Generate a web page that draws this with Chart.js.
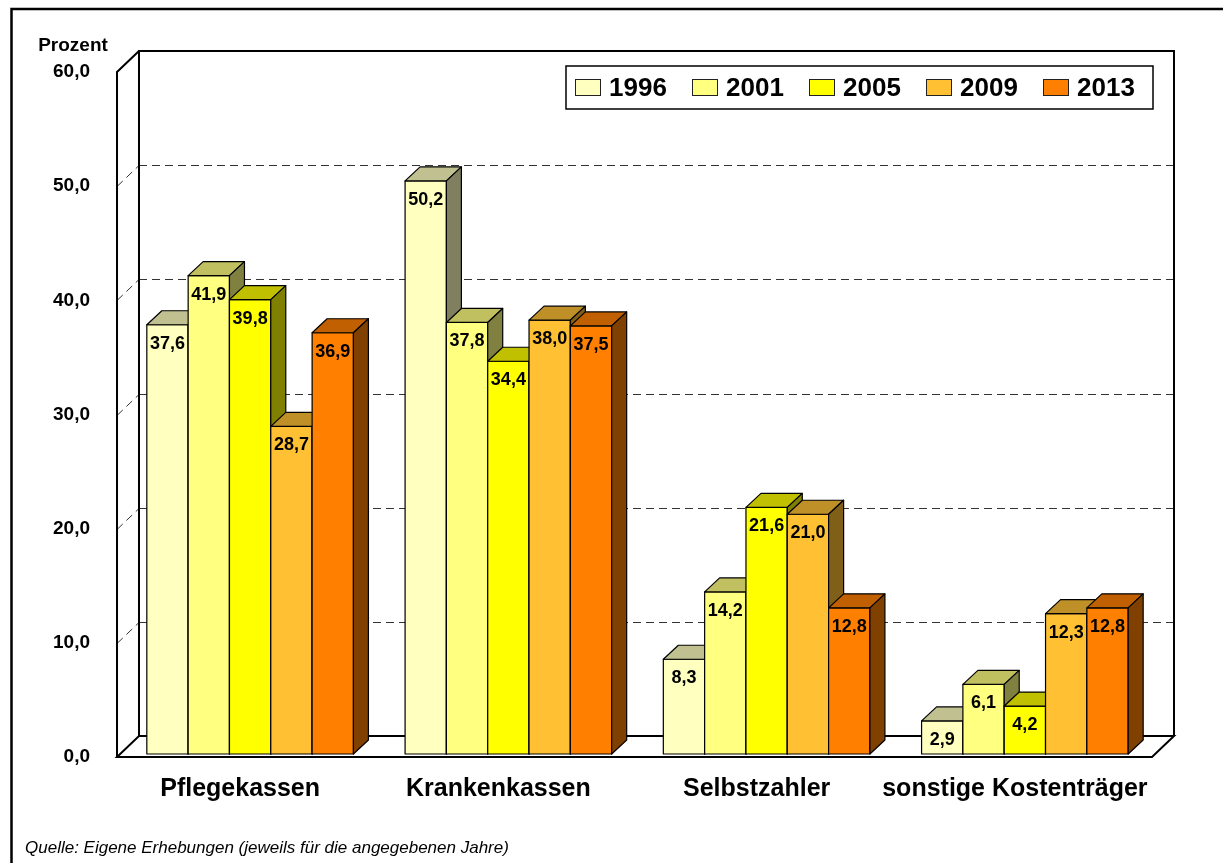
<!DOCTYPE html>
<html><head><meta charset="utf-8">
<script src="https://cdn.jsdelivr.net/npm/chart.js@4/dist/chart.umd.min.js"></script>
<style>html,body{margin:0;padding:0;background:#fff}#wrap{width:1223px;height:863px;position:relative}canvas{display:block}</style>
</head><body><div id="wrap"><canvas id="c" width="1223" height="863"></canvas></div>
<script>
const categories = ['Pflegekassen', 'Krankenkassen', 'Selbstzahler', 'sonstige Kostenträger'];
const years = ['1996', '2001', '2005', '2009', '2013'];
const values1996 = [37.6, 50.2, 8.3, 2.9];
const values2001 = [41.9, 37.8, 14.2, 6.1];
const values2005 = [39.8, 34.4, 21.6, 4.2];
const values2009 = [28.7, 38.0, 21.0, 12.3];
const values2013 = [36.9, 37.5, 12.8, 12.8];
const yMin = 0, yMax = 60, yStep = 10;
const yTitle = 'Prozent';
const sourceNote = 'Quelle: Eigene Erhebungen (jeweils für die angegebenen Jahre)';

const frontColors = ['#FFFFC0', '#FFFF80', '#FFFF00', '#FFC133', '#FF8000'];
const topColors = ['#C0C090', '#C0C060', '#C0C000', '#C09028', '#C06000'];
const sideColors = ['#808060', '#808040', '#808000', '#806018', '#804000'];

const FONT = '"Liberation Sans", Arial, Helvetica, sans-serif';
const fmt = v => Number(v).toFixed(1).replace('.', ',');

const seriesValues = [values1996, values2001, values2005, values2009, values2013];
const datasets = years.map((y, i) => ({
  label: y,
  data: seriesValues[i],
  backgroundColor: frontColors[i],
  borderColor: '#000',
  borderWidth: 1,
  borderSkipped: false,
  categoryPercentage: 0.8,
  barPercentage: 1.0
}));

// 3D geometry (pixels)
const BAR_DX = 15, BAR_DY = -14;   // bar depth
const FRONT_DX = -4, FRONT_DY = 3; // axis front plane relative to bar plane
const WALL_DX = 22, WALL_DY = -21; // wall depth

const threeD = {
  id: 'threeD',
  beforeDraw(chart) {
    const ctx = chart.ctx;
    ctx.save();
    ctx.fillStyle = '#fff';
    ctx.fillRect(0, 0, chart.width, chart.height);
    // outer frame
    ctx.strokeStyle = '#000';
    ctx.lineWidth = 2.5;
    ctx.strokeRect(11.5, 9, 1240, 900);
    // y title
    ctx.fillStyle = '#000';
    ctx.font = 'bold 19px ' + FONT;
    ctx.textAlign = 'center';
    ctx.textBaseline = 'middle';
    ctx.fillText(yTitle, 73, 46);
    // source
    ctx.font = 'italic 17px ' + FONT;
    ctx.textAlign = 'left';
    ctx.fillText(sourceNote, 25, 848);
    ctx.restore();
  },
  beforeDatasetsDraw(chart) {
    const ctx = chart.ctx, ys = chart.scales.y, ca = chart.chartArea;
    const FL = ca.left + FRONT_DX, FR = ca.right - 2;
    const FB = ys.getPixelForValue(yMin) + FRONT_DY, FT = ys.getPixelForValue(yMax) + FRONT_DY;
    ctx.save();
    // dashed gridlines
    ctx.strokeStyle = '#333';
    ctx.lineWidth = 1;
    ctx.setLineDash([8, 5]);
    for (let v = yMin + yStep; v < yMax; v += yStep) {
      const yf = Math.round(ys.getPixelForValue(v) + FRONT_DY) + 0.5;
      ctx.beginPath();
      ctx.moveTo(FL + WALL_DX, yf + WALL_DY);
      ctx.lineTo(FR + WALL_DX, yf + WALL_DY);
      ctx.stroke();
      ctx.beginPath();
      ctx.moveTo(FL, yf);
      ctx.lineTo(FL + WALL_DX, yf + WALL_DY);
      ctx.stroke();
    }
    ctx.setLineDash([]);
    ctx.strokeStyle = '#000';
    ctx.lineWidth = 2;
    // back wall
    ctx.beginPath();
    ctx.moveTo(FL + WALL_DX, FB + WALL_DY);
    ctx.lineTo(FL + WALL_DX, FT + WALL_DY);
    ctx.lineTo(FR + WALL_DX, FT + WALL_DY);
    ctx.lineTo(FR + WALL_DX, FB + WALL_DY);
    ctx.stroke();
    // left side wall
    ctx.beginPath();
    ctx.moveTo(FL, FB);
    ctx.lineTo(FL, FT);
    ctx.lineTo(FL + WALL_DX, FT + WALL_DY);
    ctx.stroke();
    // floor
    ctx.beginPath();
    ctx.moveTo(FL, FB);
    ctx.lineTo(FR, FB);
    ctx.lineTo(FR + WALL_DX, FB + WALL_DY);
    ctx.lineTo(FL + WALL_DX, FB + WALL_DY);
    ctx.closePath();
    ctx.stroke();
    ctx.restore();
  },
  afterDatasetsDraw(chart) {
    const ctx = chart.ctx;
    const metas = chart.data.datasets.map((d, i) => chart.getDatasetMeta(i));
    ctx.save();
    ctx.strokeStyle = '#000';
    ctx.lineWidth = 1.2;
    ctx.lineJoin = 'round';
    for (let j = 0; j < categories.length; j++) {
      for (let i = 0; i < metas.length; i++) {
        const el = metas[i].data[j];
        if (!el) continue;
        const w = el.width, l = el.x - w / 2, r = el.x + w / 2, t = el.y, b = el.base;
        // front
        ctx.fillStyle = frontColors[i];
        ctx.fillRect(l, t, w, b - t);
        ctx.strokeRect(l, t, w, b - t);
        // top
        ctx.beginPath();
        ctx.moveTo(l, t); ctx.lineTo(r, t); ctx.lineTo(r + BAR_DX, t + BAR_DY); ctx.lineTo(l + BAR_DX, t + BAR_DY); ctx.closePath();
        ctx.fillStyle = topColors[i]; ctx.fill(); ctx.stroke();
        // side
        ctx.beginPath();
        ctx.moveTo(r, t); ctx.lineTo(r + BAR_DX, t + BAR_DY); ctx.lineTo(r + BAR_DX, b + BAR_DY); ctx.lineTo(r, b); ctx.closePath();
        ctx.fillStyle = sideColors[i]; ctx.fill(); ctx.stroke();
        // value label
        ctx.fillStyle = '#000';
        ctx.font = 'bold 18px ' + FONT;
        ctx.textAlign = 'center';
        ctx.textBaseline = 'middle';
        ctx.fillText(fmt(chart.data.datasets[i].data[j]), el.x, t + 19);
      }
    }
    ctx.restore();
  },
  afterDraw(chart) {
    const ctx = chart.ctx;
    ctx.save();
    // legend box
    ctx.strokeStyle = '#000';
    ctx.lineWidth = 1.5;
    ctx.fillStyle = '#fff';
    ctx.fillRect(566, 66, 587, 43);
    ctx.strokeRect(566, 66, 587, 43);
    ctx.font = 'bold 26px ' + FONT;
    ctx.textAlign = 'left';
    ctx.textBaseline = 'middle';
    chart.data.datasets.forEach((d, i) => {
      const x = 575 + i * 117;
      ctx.fillStyle = d.backgroundColor;
      ctx.fillRect(x, 79, 25, 16);
      ctx.lineWidth = 1;
      ctx.strokeStyle = '#222';
      ctx.strokeRect(x + 0.5, 79.5, 25, 16);
      ctx.fillStyle = '#000';
      ctx.fillText(d.label, x + 34, 89);
    });
    ctx.restore();
  }
};

new Chart(document.getElementById('c'), {
  type: 'bar',
  data: { labels: categories, datasets },
  options: {
    responsive: false,
    animation: false,
    devicePixelRatio: 1,
    layout: { padding: { left: 0, top: 69, right: 69, bottom: 59 } },
    plugins: { legend: { display: false }, tooltip: { enabled: false }, title: { display: false } },
    scales: {
      x: {
        offset: true,
        grid: { display: false, drawTicks: false },
        border: { display: false },
        ticks: { font: { family: FONT, size: 25, weight: 'bold' }, color: '#000', padding: 20, maxRotation: 0, autoSkip: false, labelOffset: -10 },
        afterFit: s => { s.height = 50; }
      },
      y: {
        min: yMin, max: yMax,
        grid: { display: false, drawTicks: false },
        border: { display: false },
        ticks: { stepSize: yStep, padding: 31, labelOffset: 3, font: { family: FONT, size: 19, weight: 'bold' }, color: '#000', callback: v => fmt(v) },
        afterFit: s => { s.width = 121; }
      }
    }
  },
  plugins: [threeD]
});
</script>
</body></html>
